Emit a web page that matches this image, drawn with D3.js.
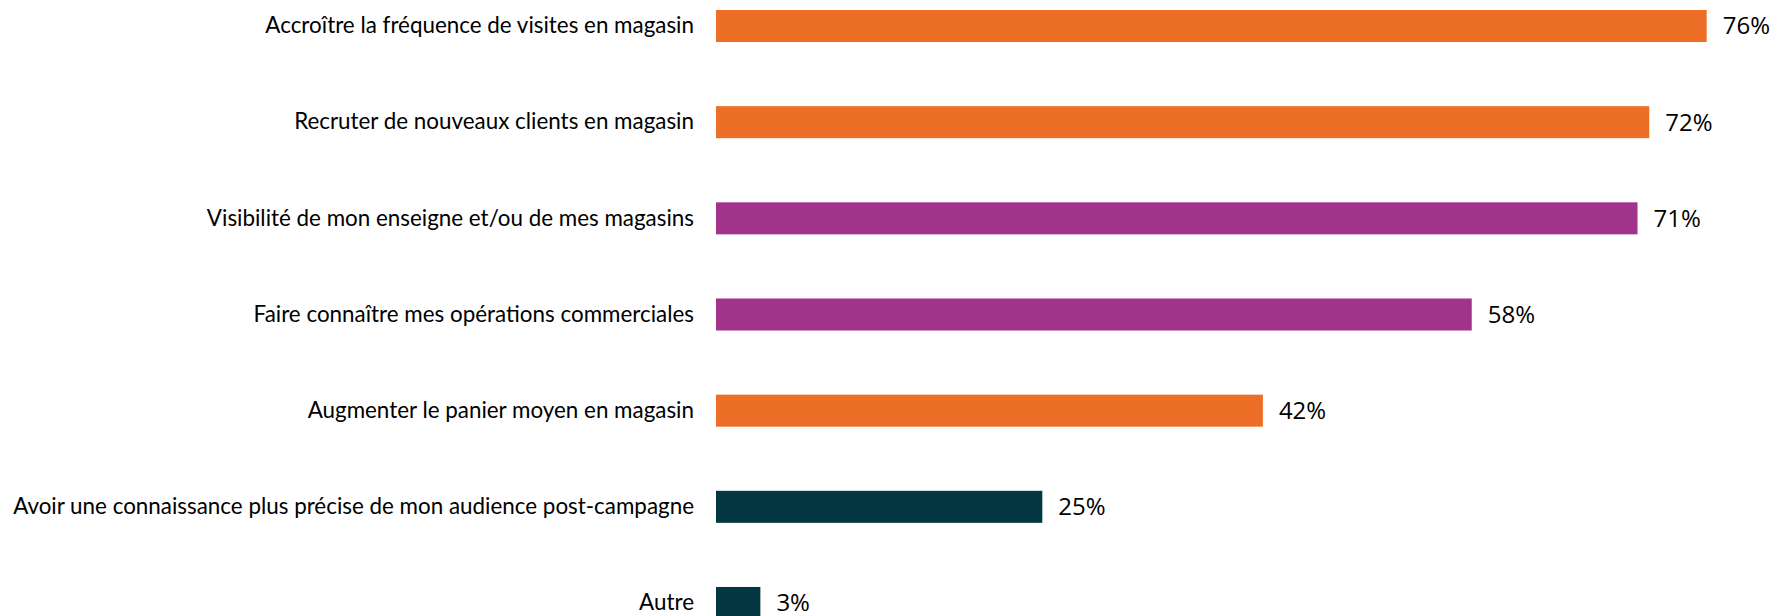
<!DOCTYPE html>
<html>
<head>
<meta charset="utf-8">
<script src="https://cdn.jsdelivr.net/npm/d3@7"></script>
<style>
  body { margin: 0; background: #fff; }
  #chart text { fill: #000; }
</style>
</head>
<body>
<div id="chart"></div>
<script>
const categories = [
    "Accroître la fréquence de visites en magasin",
    "Recruter de nouveaux clients en magasin",
    "Visibilité de mon enseigne et/ou de mes magasins",
    "Faire connaître mes opérations commerciales",
    "Augmenter le panier moyen en magasin",
    "Avoir une connaissance plus précise de mon audience post-campagne",
    "Autre"
];
const values = [75.9, 71.5, 70.6, 57.9, 41.9, 25.0, 3.4];
const valueLabels = ["76%", "72%", "71%", "58%", "42%", "25%", "3%"];
const groups = ["magasin", "magasin", "visibilite", "visibilite", "magasin", "audience", "audience"];

const width = 1777, height = 616;

const color = d3.scaleOrdinal()
    .domain(["magasin", "visibilite", "audience"])
    .range(["#ED6F27", "#A2338A", "#033843"]);

const x = d3.scaleLinear()
    .domain([0, 76])
    .range([716, 1708]);

const y = d3.scaleBand()
    .domain(categories)
    .range([10, 619])
    .paddingInner(0.667)
    .paddingOuter(0);

const svg = d3.select("#chart")
    .append("svg")
    .attr("width", width)
    .attr("height", height);

svg.append("g")
    .selectAll("rect")
    .data(categories)
    .enter().append("rect")
    .attr("x", x(0))
    .attr("y", d => y(d))
    .attr("width", (d, i) => x(values[i]) - x(0))
    .attr("height", y.bandwidth())
    .attr("fill", (d, i) => color(groups[i]));

const yAxis = svg.append("g")
    .attr("transform", `translate(${x(0)},0)`)
    .call(d3.axisLeft(y).tickSize(0).tickPadding(22));
yAxis.select(".domain").remove();
yAxis.selectAll("text")
    .attr("font-family", "Lato, sans-serif")
    .attr("font-size", 22.4)
    .attr("fill", "#000");

svg.append("g")
    .selectAll("text")
    .data(categories)
    .enter().append("text")
    .attr("x", (d, i) => x(values[i]) + 16)
    .attr("y", d => y(d) + y.bandwidth() / 2)
    .attr("dy", "0.35em")
    .attr("font-family", "'Open Sans', sans-serif")
    .attr("font-size", 24)
    .text((d, i) => valueLabels[i]);
</script>
</body>
</html>
